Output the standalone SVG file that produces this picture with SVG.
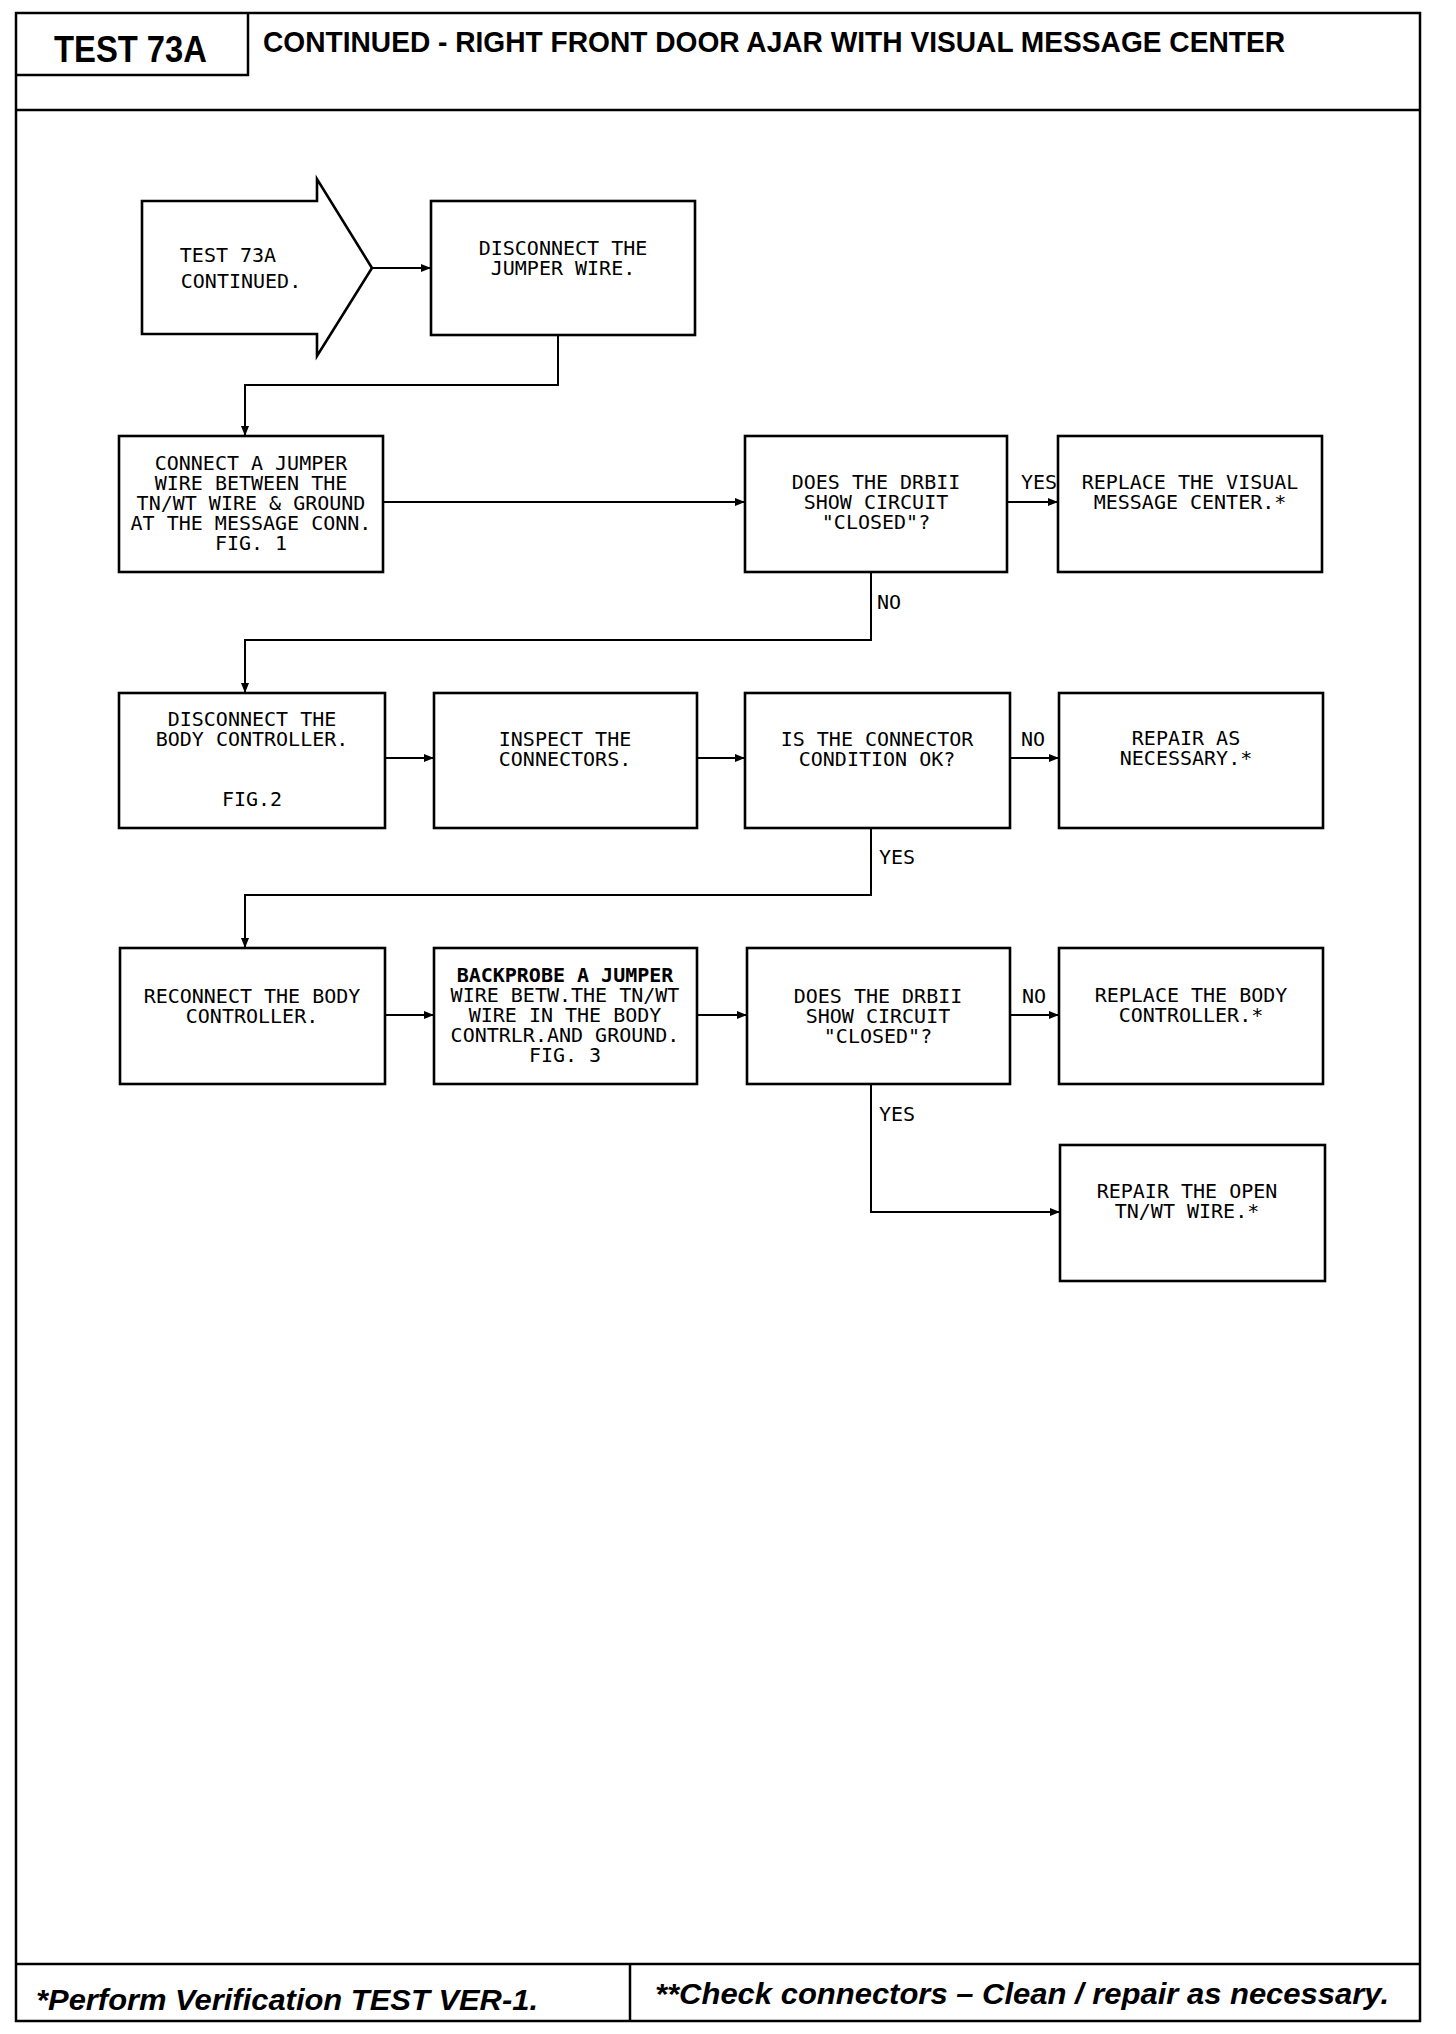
<svg xmlns="http://www.w3.org/2000/svg" width="1456" height="2034" viewBox="0 0 1456 2034">
<style>
.frame{fill:none;stroke:#000;stroke-width:2.5}
.box{fill:#fff;stroke:#000;stroke-width:2.6}
.t{font-family:"DejaVu Sans Mono","Liberation Mono",monospace;font-size:20px;fill:#000;text-anchor:middle}
.lbl{font-family:"DejaVu Sans Mono","Liberation Mono",monospace;font-size:20px;fill:#000}
.con{fill:none;stroke:#000;stroke-width:2}
.hdr{font-family:"Liberation Sans",Arial,sans-serif;font-weight:bold;fill:#000}
.ftr{font-family:"Liberation Sans",Arial,sans-serif;font-weight:bold;font-style:italic;fill:#000;font-size:29px}
</style>
<defs>
<marker id="ah" markerUnits="userSpaceOnUse" markerWidth="12" markerHeight="10" refX="10" refY="5" orient="auto">
<path d="M0,1 L10,5 L0,9 Z" fill="#000"/>
</marker>
</defs>
<g id="frame">
<rect class="frame" x="16" y="13" width="1404" height="2008"/>
<line class="frame" x1="16" y1="110" x2="1420" y2="110"/>
<polyline class="frame" points="16,75 248,75 248,13"/>
<text class="hdr" x="54" y="62" font-size="36" textLength="153" lengthAdjust="spacingAndGlyphs">TEST 73A</text>
<text class="hdr" x="263" y="52" font-size="30" textLength="1022" lengthAdjust="spacingAndGlyphs">CONTINUED - RIGHT FRONT DOOR AJAR WITH VISUAL MESSAGE CENTER</text>
<line class="frame" x1="16" y1="1964" x2="1420" y2="1964"/>
<line class="frame" x1="630" y1="1964" x2="630" y2="2021"/>
<text class="ftr" x="36" y="2010" textLength="502" lengthAdjust="spacingAndGlyphs">*Perform Verification TEST VER-1.</text>
<text class="ftr" x="655" y="2004" textLength="734" lengthAdjust="spacingAndGlyphs">**Check connectors – Clean / repair as necessary.</text>
</g>
<g id="connectors">
<path class="con" d="M372,268 H431" marker-end="url(#ah)"/>
<path class="con" d="M558,335 V385 H245 V436" marker-end="url(#ah)"/>
<path class="con" d="M383,502 H745" marker-end="url(#ah)"/>
<path class="con" d="M1007,502 H1058" marker-end="url(#ah)"/>
<path class="con" d="M871,572 V640 H245 V693" marker-end="url(#ah)"/>
<path class="con" d="M385,758 H434" marker-end="url(#ah)"/>
<path class="con" d="M697,758 H745" marker-end="url(#ah)"/>
<path class="con" d="M1010,758 H1059" marker-end="url(#ah)"/>
<path class="con" d="M871,828 V895 H245 V948" marker-end="url(#ah)"/>
<path class="con" d="M385,1015 H434" marker-end="url(#ah)"/>
<path class="con" d="M697,1015 H747" marker-end="url(#ah)"/>
<path class="con" d="M1010,1015 H1059" marker-end="url(#ah)"/>
<path class="con" d="M871,1084 V1212 H1060" marker-end="url(#ah)"/>
<text class="lbl" x="1021" y="489">YES</text>
<text class="lbl" x="877" y="609">NO</text>
<text class="lbl" x="1021" y="746">NO</text>
<text class="lbl" x="879" y="864">YES</text>
<text class="lbl" x="1022" y="1003">NO</text>
<text class="lbl" x="879" y="1121">YES</text>
</g>
<g id="start">
<path class="box" d="M142,201 H317 V179 L372,268 L317,356 V334 H142 Z"/>
<text class="t" x="228" y="262">TEST 73A</text>
<text class="t" x="241" y="288">CONTINUED.</text>
</g>
<g id="n-disconnect-jumper">
<rect class="box" x="431" y="201" width="264" height="134"/>
<text class="t" x="563" y="255">DISCONNECT THE</text>
<text class="t" x="563" y="275">JUMPER WIRE.</text>
</g>
<g id="n-connect-jumper">
<rect class="box" x="119" y="436" width="264" height="136"/>
<text class="t" x="251" y="470">CONNECT A JUMPER</text>
<text class="t" x="251" y="490">WIRE BETWEEN THE</text>
<text class="t" x="251" y="510">TN/WT WIRE &amp; GROUND</text>
<text class="t" x="251" y="530">AT THE MESSAGE CONN.</text>
<text class="t" x="251" y="550">FIG. 1</text>
</g>
<g id="d-drbii-1">
<rect class="box" x="745" y="436" width="262" height="136"/>
<text class="t" x="876" y="489">DOES THE DRBII</text>
<text class="t" x="876" y="509">SHOW CIRCUIT</text>
<text class="t" x="876" y="529">"CLOSED"?</text>
</g>
<g id="n-replace-vmc">
<rect class="box" x="1058" y="436" width="264" height="136"/>
<text class="t" x="1190" y="489">REPLACE THE VISUAL</text>
<text class="t" x="1190" y="509">MESSAGE CENTER.*</text>
</g>
<g id="n-disconnect-body">
<rect class="box" x="119" y="693" width="266" height="135"/>
<text class="t" x="252" y="726">DISCONNECT THE</text>
<text class="t" x="252" y="746">BODY CONTROLLER.</text>
<text class="t" x="252" y="806">FIG.2</text>
</g>
<g id="n-inspect">
<rect class="box" x="434" y="693" width="263" height="135"/>
<text class="t" x="565" y="746">INSPECT THE</text>
<text class="t" x="565" y="766">CONNECTORS.</text>
</g>
<g id="d-connector-ok">
<rect class="box" x="745" y="693" width="265" height="135"/>
<text class="t" x="877" y="746">IS THE CONNECTOR</text>
<text class="t" x="877" y="766">CONDITION OK?</text>
</g>
<g id="n-repair-as-necessary">
<rect class="box" x="1059" y="693" width="264" height="135"/>
<text class="t" x="1186" y="745">REPAIR AS</text>
<text class="t" x="1186" y="765">NECESSARY.*</text>
</g>
<g id="n-reconnect-body">
<rect class="box" x="120" y="948" width="265" height="136"/>
<text class="t" x="252" y="1003">RECONNECT THE BODY</text>
<text class="t" x="252" y="1023">CONTROLLER.</text>
</g>
<g id="n-backprobe">
<rect class="box" x="434" y="948" width="263" height="136"/>
<text class="t" x="565" y="982" font-weight="bold">BACKPROBE A JUMPER</text>
<text class="t" x="565" y="1002">WIRE BETW.THE TN/WT</text>
<text class="t" x="565" y="1022">WIRE IN THE BODY</text>
<text class="t" x="565" y="1042">CONTRLR.AND GROUND.</text>
<text class="t" x="565" y="1062">FIG. 3</text>
</g>
<g id="d-drbii-2">
<rect class="box" x="747" y="948" width="263" height="136"/>
<text class="t" x="878" y="1003">DOES THE DRBII</text>
<text class="t" x="878" y="1023">SHOW CIRCUIT</text>
<text class="t" x="878" y="1043">"CLOSED"?</text>
</g>
<g id="n-replace-body">
<rect class="box" x="1059" y="948" width="264" height="136"/>
<text class="t" x="1191" y="1002">REPLACE THE BODY</text>
<text class="t" x="1191" y="1022">CONTROLLER.*</text>
</g>
<g id="n-repair-open">
<rect class="box" x="1060" y="1145" width="265" height="136"/>
<text class="t" x="1187" y="1198">REPAIR THE OPEN</text>
<text class="t" x="1187" y="1218">TN/WT WIRE.*</text>
</g>
</svg>
